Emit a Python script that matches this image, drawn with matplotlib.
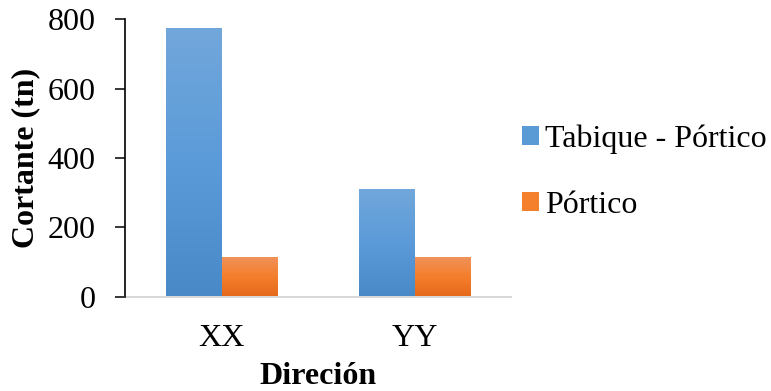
import numpy as np
import matplotlib
matplotlib.use("Agg")
import matplotlib.pyplot as plt
from matplotlib.colors import LinearSegmentedColormap
from matplotlib.patches import Patch

categories = ["XX", "YY"]
series_names = ["Tabique - Pórtico", "Pórtico"]
tabique_portico = [775, 310]
portico = [113, 113]
y_ticks = [0, 200, 400, 600, 800]

plt.rcParams["font.family"] = ["Liberation Serif", "DejaVu Serif"]

fig = plt.figure(figsize=(7.71, 3.91), dpi=100)
W, H = 771, 391
ax = fig.add_axes([125 / W, (H - 296.5) / H, 386 / W, (296.5 - 19.3) / H])

blue_cmap = LinearSegmentedColormap.from_list(
    "blue_grad", ["#4a89c8", "#5b9bd9", "#72a7db"])
orange_cmap = LinearSegmentedColormap.from_list(
    "orange_grad", ["#e6691b", "#f47f2c", "#f0935c"])

x = np.arange(len(categories))
w = 0.2876
bars1 = ax.bar(x - w / 2, tabique_portico, w, color="#5b9bd5", zorder=2)
bars2 = ax.bar(x + w / 2, portico, w, color="#f47f2c", zorder=2)

grad = np.linspace(0, 1, 256).reshape(-1, 1)
for bars, cmap in ((bars1, blue_cmap), (bars2, orange_cmap)):
    for p in bars:
        x0, y0 = p.get_x(), p.get_y()
        bw, bh = p.get_width(), p.get_height()
        im = ax.imshow(grad, cmap=cmap, origin="lower", aspect="auto",
                       extent=[x0, x0 + bw, y0, y0 + bh], zorder=3,
                       interpolation="bilinear")
        im.set_clip_path(p)

FS = 23
ax.set_xlim(-0.5, 1.5)
ax.set_ylim(0, 800)
ax.set_yticks(y_ticks)
ax.set_yticks(y_ticks[1:], minor=True)
ax.set_xticks(x)
ax.set_xticklabels(categories, fontsize=FS)
ax.tick_params(axis="x", length=0, pad=19.5)
ax.tick_params(axis="y", which="major", direction="out", length=7.2,
               width=1.1, labelsize=FS, pad=14)
ax.tick_params(axis="y", which="minor", direction="in", length=6.5, width=1.1)

for s in ("top", "right"):
    ax.spines[s].set_visible(False)
ax.spines["left"].set_linewidth(1.2)
ax.spines["left"].set_color("black")
ax.spines["bottom"].set_color("#d9d9d9")
ax.spines["bottom"].set_linewidth(1.5)
ax.spines["left"].set_zorder(5)

ax.set_ylabel("Cortante (tn)", fontsize=FS, fontweight="bold", labelpad=5)
ax.set_xlabel("Direción", fontsize=FS, fontweight="bold", labelpad=7)

handles = [Patch(facecolor="#5b9bd5"), Patch(facecolor="#f47f2c")]
fig.legend(handles, series_names, loc="center left",
           bbox_to_anchor=(522 / W, 1 - 172 / H), frameon=False,
           fontsize=FS, handlelength=0.53, handleheight=0.53,
           handletextpad=0.2, labelspacing=1.15, borderpad=0,
           borderaxespad=0)

fig.savefig("out.png", dpi=100)
